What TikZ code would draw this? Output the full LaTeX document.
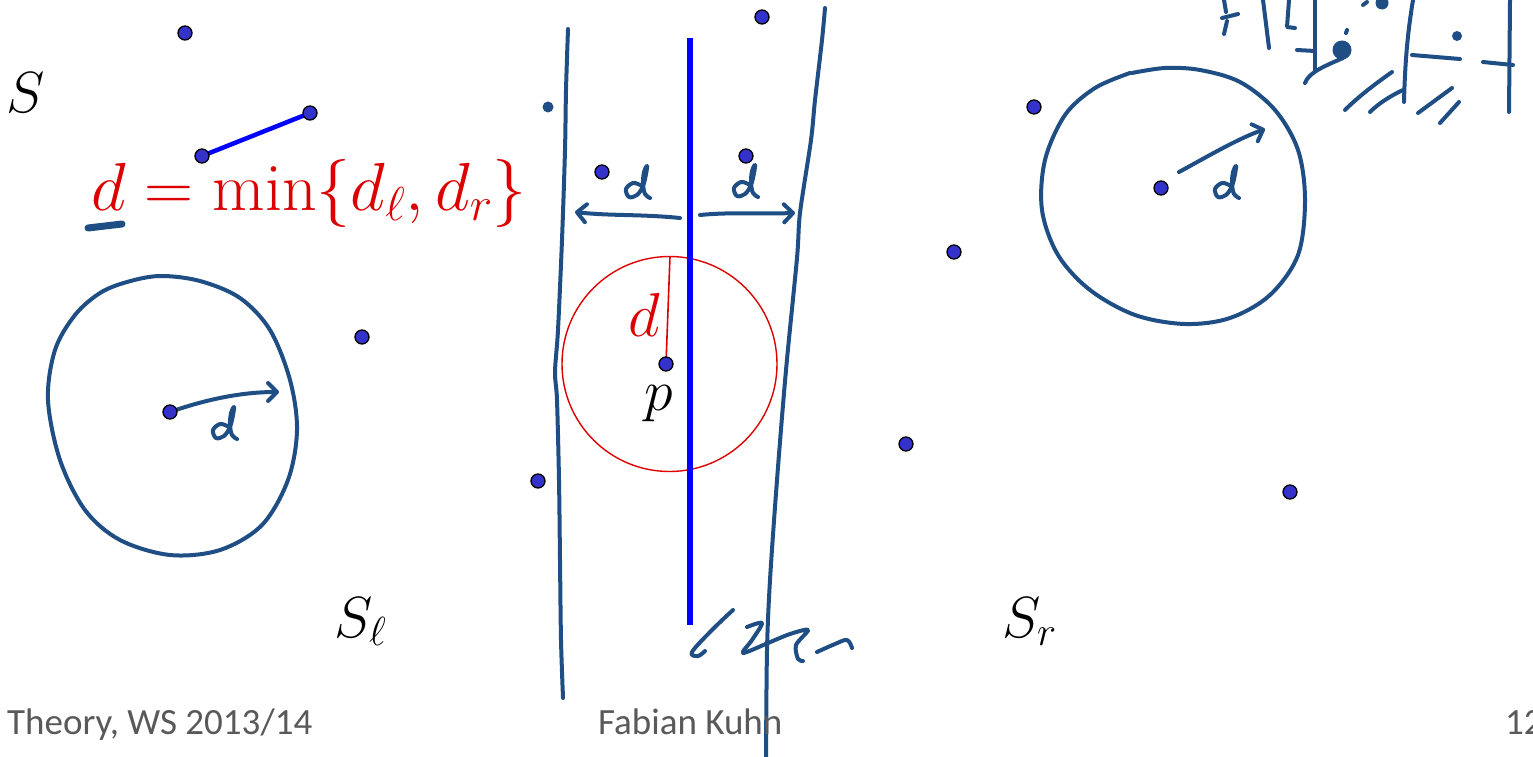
\RequirePackage{fix-cm}
\documentclass[tikz,border=0pt]{standalone}
\usepackage{fontspec}
\newfontfamily\footfont{Carlito}
\usetikzlibrary{arrows.meta}
\definecolor{ink}{RGB}{31,78,133}
\definecolor{ptfill}{RGB}{51,51,204}
\definecolor{redc}{RGB}{220,0,0}
\definecolor{foot}{RGB}{89,89,89}
\tikzset{
  pt/.style={circle,draw=black,fill=ptfill,line width=1.3pt,minimum size=14pt,inner sep=0pt},
  hand/.style={ink,line width=4pt,line cap=round,line join=round},
  harrow/.style={hand,-{Straight Barb[length=9pt,width=18pt,line cap=round,line join=round]}},
  blob/.style={ink,fill=ink,draw=none},
  hd/.pic={\draw[hand] plot[smooth,tension=0.6] coordinates {(6,-5) (-1,-7) (-8,-1) (-5,7) (3,5) (9,-4) (12,-16) (13,-24) (10,-18) (9,-6) (11,4) (16,8)};},
  mathlbl/.style={inner sep=0pt,anchor=base west},
  foottext/.style={foot,inner sep=0pt,anchor=base west,font=\footfont\fontsize{37}{40}\selectfont}
}
\begin{document}
\begin{tikzpicture}[x=1pt,y=-1pt]
\useasboundingbox (0,0) rectangle (1533,757);
% coordinates for points
\coordinate (c1) at (185,33);
\coordinate (c2) at (310,113);
\coordinate (c3) at (202,156);
\coordinate (c4) at (362,337);
\coordinate (cl) at (170,412);
\coordinate (c6) at (538,481);
\coordinate (c7) at (602,172);
\coordinate (c8) at (746,156);
\coordinate (c9) at (762,17);
\coordinate (cp) at (666,364);
\coordinate (c11) at (1034,107);
\coordinate (c12) at (954,252);
\coordinate (c13) at (906,444);
\coordinate (cr) at (1161,188);
\coordinate (c15) at (1290,492);
% red circle and radius
\coordinate (cc) at (669.5,364);
\coordinate (ctop) at (670,256);
\draw[redc,line width=1.4pt] (cc) circle[radius=107.5pt];
\draw[redc,line width=1.6pt] (cp) -- (ctop);
% blue median line
\coordinate (mtop) at (689.5,38);
\coordinate (mbot) at (689.5,625);
\draw[blue,line width=6pt] (mtop) -- (mbot);
% blue segment
\draw[blue,line width=4.5pt] (c3) -- (c2);
% hand-drawn strip boundaries
\draw[hand] plot[smooth,tension=0.5] coordinates {(568,29) (566,90) (565,150) (562,240) (558,330) (555,372) (557,400) (559,480) (560,560) (561,640) (563,698)};
\draw[hand] plot[smooth,tension=0.5] coordinates {(825,8) (822,40) (815,100) (811,140) (800,213) (797,258) (786,370) (777,480) (770,580) (767,650) (766,757)};
% strip arrows
\coordinate (la0) at (680,218);
\coordinate (la1) at (575,212);
\coordinate (ra0) at (700,215);
\coordinate (ra1) at (795,213);
\draw[harrow] (la0) .. controls (640,214) and (610,216) .. (la1);
\draw[harrow] (ra0) .. controls (730,212) and (760,214) .. (ra1);
\pic at (634,190) {hd};
\pic at (742,189) {hd};
% left circle
\draw[hand] plot[smooth cycle,tension=0.55] coordinates {(127,282) (160,276) (200,281) (240,298) (270,330) (290,380) (297,430) (288,480) (262,525) (220,550) (170,555) (120,540) (85,510) (60,460) (48,400) (55,350) (75,315) (100,293)};
\coordinate (lat) at (279,392);
\draw[harrow] (cl) .. controls (210,398) and (245,392) .. (lat);
\pic at (221,431) {hd};
% right circle
\draw[hand] plot[smooth,tension=0.55] coordinates {(1132,73) (1165,68) (1200,70) (1240,82) (1275,110) (1298,150) (1305,200) (1298,255) (1270,295) (1230,318) (1185,324) (1135,315) (1090,290) (1058,255) (1042,210) (1045,160) (1065,115) (1095,88) (1130,73)};
\coordinate (rat) at (1265,129);
\coordinate (ras) at (1179,172);
\draw[harrow] (ras) .. controls (1205,158) and (1235,140) .. (rat);
\pic at (1223,190) {hd};
% ink dot near left strip
\fill[blob] (548,107) circle[radius=5.5pt];
% underline under d
\draw[ink,line width=7pt,line cap=round] (88,228) -- (122,224);
% top-right scribbles
\draw[hand] (1224,0) -- (1226,12);
\draw[hand] (1222,18) -- (1238,14);
\draw[hand] (1227,21) -- (1224,34);
\draw[hand] (1263,0) -- (1269,48);
\draw[hand] (1289,0) -- (1287,27) -- (1295,28);
\draw[hand] (1315,0) -- (1315,70);
\draw[hand] (1297,50) -- (1315,51);
\fill[blob] (1342,50) circle[radius=9.5pt];
\draw[hand] (1347,30) -- (1346,33);
\draw[hand] (1305,83) .. controls (1309,72) and (1325,66) .. (1343,58);
\fill[blob] (1382,3) circle[radius=6.5pt];
\draw[hand] (1363,5) -- (1367,2);
\draw[hand] (1413,0) .. controls (1408,30) and (1405,60) .. (1404,102);
\draw[hand] (1412,55) -- (1460,59);
\fill[blob] (1457,36) circle[radius=5pt];
\draw[hand] (1483,62) -- (1513,65);
\draw[hand] (1510,0) -- (1509,112);
\draw[hand] (1345,110) .. controls (1360,95) and (1378,82) .. (1392,72);
\draw[hand] (1370,112) .. controls (1378,104) and (1390,96) .. (1403,90);
\draw[hand] (1418,113) -- (1452,88);
\draw[hand] (1440,123) -- (1459,102);
% bottom scribbles
\draw[hand] plot[smooth,tension=0.6] coordinates {(733,610) (712,630) (692,652) (698,656) (705,651)};
\draw[hand] plot[smooth,tension=0.5] coordinates {(747,627) (762,623) (752,640) (743,653) (768,643) (790,634) (808,630) (796,645) (798,659) (803,661)};
\draw[hand] plot[smooth,tension=0.6] coordinates {(817,652) (835,644) (847,640) (852,648)};
% points
\foreach \c in {c1,c2,c3,c4,cl,c6,c7,c8,c9,cp,c11,c12,c13,cr,c15}
  \node[pt] (n\c) at (\c) {};
% math labels
\node[mathlbl,redc,font=\fontsize{68}{76}\selectfont] (formula) at (91,210) {$d=\min\{d_\ell,d_r\}$};
\node[mathlbl,redc,font=\fontsize{62}{70}\selectfont] (rd) at (628,336) {$d$};
\node[mathlbl,font=\fontsize{58}{64}\selectfont] (plbl) at (644,410) {$p$};
\node[mathlbl,font=\fontsize{58}{64}\selectfont] (S) at (6,113) {$S$};
\node[mathlbl,font=\fontsize{58}{64}\selectfont] (Sl) at (334,637) {$S_\ell$};
\node[mathlbl,font=\fontsize{58}{64}\selectfont] (Sr) at (1002,637) {$S_r$};
% footer
\node[foottext] (f1) at (7,734) {Theory, WS 2013/14};
\node[foottext] (f2) at (598,734) {Fabian Kuhn};
\node[foottext] (f3) at (1505,734) {12};
\end{tikzpicture}
\end{document}
